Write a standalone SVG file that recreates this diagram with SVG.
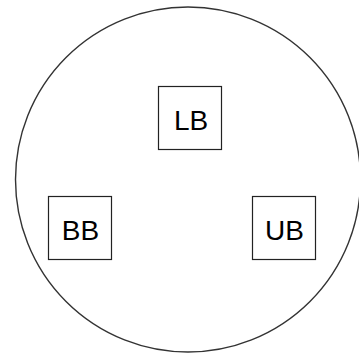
<svg xmlns="http://www.w3.org/2000/svg" width="359" height="356" viewBox="0 0 359 356">
<style>
.box{fill:#fff;stroke:#222;stroke-width:1.2}
.lbl{font-family:"Liberation Sans",Arial,sans-serif;font-size:28px;fill:#000;text-anchor:middle}
</style>
<rect width="359" height="356" fill="#fff"/>
<g id="circle"><circle cx="188" cy="179.5" r="172.5" fill="#fff" stroke="#333" stroke-width="1.4"/></g>
<g id="LB"><rect class="box" x="158.5" y="86.5" width="63" height="63"/><text class="lbl" x="191" y="129.5">LB</text></g>
<g id="BB"><rect class="box" x="48.5" y="196.5" width="63" height="63"/><text class="lbl" x="80.5" y="239.5">BB</text></g>
<g id="UB"><rect class="box" x="252.5" y="196.5" width="63" height="63"/><text class="lbl" x="284.5" y="239.5">UB</text></g>
<g id="connectors"/>
</svg>
